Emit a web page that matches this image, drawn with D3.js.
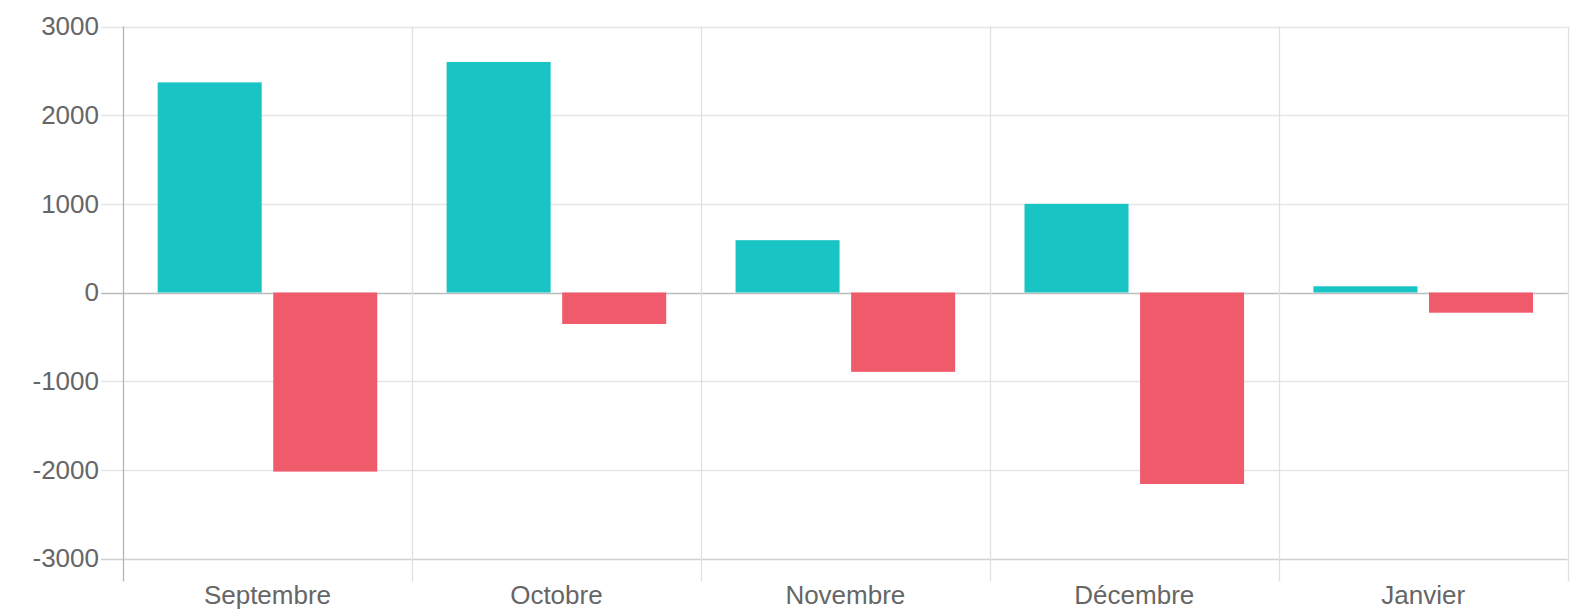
<!DOCTYPE html>
<html>
<head>
<meta charset="utf-8">
<script src="https://cdn.jsdelivr.net/npm/d3@7"></script>
<style>
  html, body { margin: 0; padding: 0; background: #fff; }
  svg { display: block; }
  text { font-family: "Liberation Sans", Arial, Helvetica, sans-serif; }
</style>
</head>
<body>
<div id="chart"></div>
<script>
const months = ['Septembre', 'Octobre', 'Novembre', 'Décembre', 'Janvier'];
const series = ['gain', 'perte'];
const gains = [2370, 2600, 590, 1000, 70];
const pertes = [-2020, -355, -895, -2160, -228];
const yTicks = [-3000, -2000, -1000, 0, 1000, 2000, 3000];

const width = 1580;
const height = 614;
const margin = { top: 26.5, right: 12.3, bottom: 55.5, left: 123 };
const colors = { gain: '#19c4c4', perte: '#ef5b6b' };

const svg = d3.select('#chart').append('svg')
    .attr('width', width)
    .attr('height', height);

const x = d3.scaleBand()
    .domain(months)
    .range([margin.left, width - margin.right])
    .padding(0);

const bw = x.bandwidth();
// 80% of the category for the group, 90% of each slot for the bar
const xs = d3.scaleBand()
    .domain(series)
    .range([0.1 * bw, 0.9 * bw])
    .paddingInner(0.1)
    .paddingOuter(0.05);

const y = d3.scaleLinear()
    .domain([-3000, 3000])
    .range([height - margin.bottom, margin.top]);

// horizontal grid
svg.append('g')
    .selectAll('line')
    .data(yTicks)
    .join('line')
    .attr('x1', margin.left - 22)
    .attr('x2', width - margin.right)
    .attr('y1', d => Math.round(y(d)) + 0.5)
    .attr('y2', d => Math.round(y(d)) + 0.5)
    .attr('stroke', d => d === 0 ? '#bdbdbd' : (d === -3000 ? '#d0d0d0' : '#e5e5e5'))
    .attr('stroke-width', 1.3);

// vertical grid at category boundaries
const bounds = months.map(m => x(m)).concat([x.range()[1]]);
svg.append('g')
    .selectAll('line')
    .data(bounds)
    .join('line')
    .attr('x1', d => Math.round(d) + 0.5)
    .attr('x2', d => Math.round(d) + 0.5)
    .attr('y1', margin.top)
    .attr('y2', height - margin.bottom + 23)
    .attr('stroke', (d, i) => i === 0 ? '#b5b5b5' : '#e0e0e0')
    .attr('stroke-width', 1.3);

// bars
const data = months.map((m, i) => ({ month: m, gain: gains[i], perte: pertes[i] }));
const groups = svg.append('g')
    .selectAll('g')
    .data(data)
    .join('g')
    .attr('transform', d => `translate(${x(d.month)},0)`);

groups.selectAll('rect')
    .data(d => series.map(s => ({ key: s, value: d[s] })))
    .join('rect')
    .attr('x', d => xs(d.key))
    .attr('width', xs.bandwidth())
    .attr('y', d => y(Math.max(0, d.value)))
    .attr('height', d => Math.abs(y(d.value) - y(0)))
    .attr('fill', d => colors[d.key]);

// y labels
const yAxis = svg.append('g')
    .attr('transform', `translate(${margin.left},0)`)
    .call(d3.axisLeft(y).tickValues(yTicks).tickFormat(d => String(d)).tickSize(0).tickPadding(24));
yAxis.select('.domain').remove();
yAxis.selectAll('text')
    .attr('fill', '#666')
    .style('font-size', '26px');

// x labels
const xAxis = svg.append('g')
    .attr('transform', `translate(0,${height - margin.bottom})`)
    .call(d3.axisBottom(x).tickSize(0));
xAxis.select('.domain').remove();
xAxis.selectAll('text')
    .attr('fill', '#666')
    .attr('y', 45)
    .attr('dy', 0)
    .style('font-size', '26px');
</script>
</body>
</html>
